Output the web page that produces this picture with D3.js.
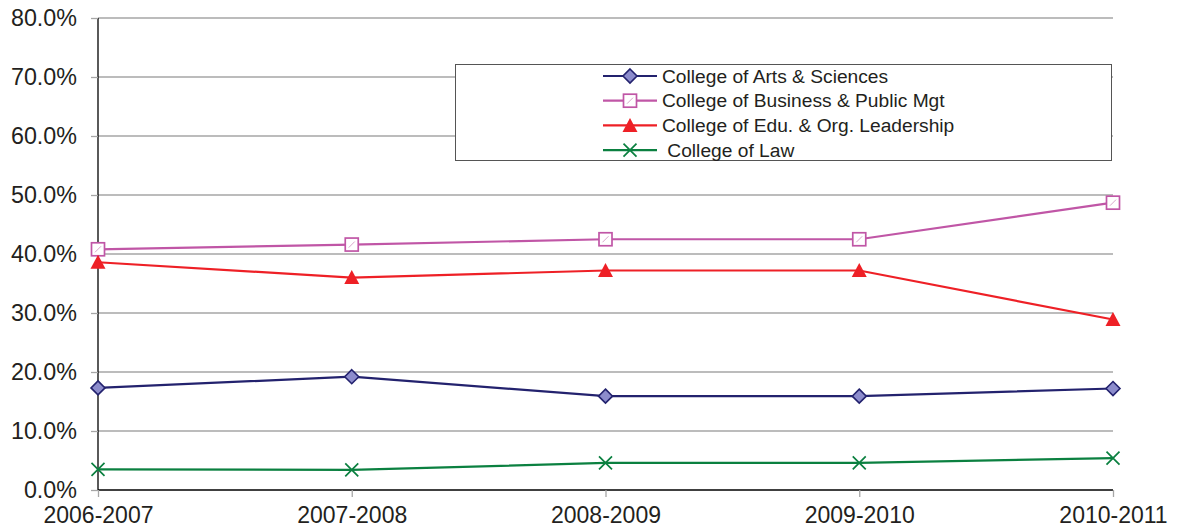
<!DOCTYPE html>
<html><head><meta charset="utf-8">
<script src="https://cdn.jsdelivr.net/npm/d3@7/dist/d3.min.js"></script>
<style>body{margin:0;background:#fff;}svg{display:block;font-family:"Liberation Sans",Arial,sans-serif;}</style>
</head><body><svg id="c" width="1177" height="531"></svg>
<script>
const years = ["2006-2007","2007-2008","2008-2009","2009-2010","2010-2011"];
const yTicks = [0,0.1,0.2,0.3,0.4,0.5,0.6,0.7,0.8];
const arts = [0.173,0.192,0.159,0.159,0.172];
const business = [0.408,0.416,0.425,0.425,0.487];
const edu = [0.386,0.360,0.372,0.372,0.289];
const law = [0.035,0.034,0.046,0.046,0.054];
const seriesNames = ["College of Arts & Sciences","College of Business & Public Mgt","College of Edu. & Org. Leadership"," College of Law"];

const series = [
  {name:seriesNames[0], values:arts, color:"#23226e", marker:"diamond", fill:"#8c8ccc"},
  {name:seriesNames[1], values:business, color:"#c056a6", marker:"square", fill:"#fff"},
  {name:seriesNames[2], values:edu, color:"#ee2026", marker:"triangle", fill:"#ee2026"},
  {name:seriesNames[3], values:law, color:"#0b8040", marker:"x", fill:"none"}
];

const svg = d3.select("#c");
const x = d3.scalePoint().domain(years).range([98,1113]);
const y = d3.scaleLinear().domain([0,0.8]).range([490,18]);

// gridlines
svg.append("g").selectAll("line").data(yTicks.filter(d=>d>0)).join("line")
  .attr("x1",98).attr("x2",1113).attr("y1",d=>y(d)).attr("y2",d=>y(d))
  .attr("stroke","#a6a6a6").attr("stroke-width",1.3);

// y axis
const yAxis = svg.append("g").attr("transform","translate(98,0)")
  .call(d3.axisLeft(y).tickValues(yTicks).tickFormat(d3.format(".1%")).tickSize(7).tickPadding(14));
yAxis.select(".domain").attr("stroke","#000").attr("stroke-width",1.3).attr("d","M0,18V490");
yAxis.selectAll(".tick line").attr("stroke","#a6a6a6").attr("stroke-width",1.3);
yAxis.selectAll(".tick text").attr("font-size",23.3).attr("fill","#231f20").attr("font-family","Liberation Sans, Arial, sans-serif");

// x axis
const xAxis = svg.append("g").attr("transform","translate(0,490)")
  .call(d3.axisBottom(x).tickSize(7).tickPadding(10));
xAxis.select(".domain").attr("stroke","#000").attr("stroke-width",1.3).attr("d","M98,0H1113");
xAxis.selectAll(".tick line").attr("stroke","#a6a6a6").attr("stroke-width",1.3);
xAxis.selectAll(".tick text").attr("font-size",23).attr("fill","#231f20").attr("font-family","Liberation Sans, Arial, sans-serif");

function drawMarker(g, s, cx, cy){
  if(s.marker==="diamond"){
    g.append("path").attr("d",`M${cx},${cy-7}L${cx+7},${cy}L${cx},${cy+7}L${cx-7},${cy}Z`)
      .attr("fill",s.fill).attr("stroke",s.color).attr("stroke-width",1.6);
  } else if(s.marker==="square"){
    g.append("rect").attr("x",cx-6.5).attr("y",cy-6.5).attr("width",13).attr("height",13)
      .attr("fill",s.fill).attr("stroke",s.color).attr("stroke-width",1.7);
    g.append("path").attr("d",`M${cx-3},${cy+3}L${cx+3},${cy-3}`).attr("stroke","#d9a6cc").attr("stroke-width",1);
  } else if(s.marker==="triangle"){
    g.append("path").attr("d",`M${cx},${cy-7.5}L${cx+7.5},${cy+6.5}L${cx-7.5},${cy+6.5}Z`).attr("fill",s.fill);
  } else {
    g.append("path").attr("d",`M${cx-6.5},${cy-6.5}L${cx+6.5},${cy+6.5}M${cx-6.5},${cy+6.5}L${cx+6.5},${cy-6.5}`)
      .attr("stroke",s.color).attr("stroke-width",1.7);
  }
}

const line = d3.line().x((d,i)=>x(years[i])).y(d=>y(d));
series.forEach(s=>{
  const g = svg.append("g");
  g.append("path").datum(s.values).attr("d",line).attr("fill","none").attr("stroke",s.color).attr("stroke-width",2.2);
  s.values.forEach((v,i)=>drawMarker(g,s,x(years[i]),y(v)));
});

// legend
const lg = svg.append("g");
lg.append("rect").attr("x",455.5).attr("y",64.5).attr("width",656).attr("height",96)
  .attr("fill","#fff").attr("stroke","#555").attr("stroke-width",1);
series.forEach((s,i)=>{
  const cy = 76 + i*24.7;
  const g = lg.append("g");
  g.append("line").attr("x1",603).attr("x2",657).attr("y1",cy).attr("y2",cy).attr("stroke",s.color).attr("stroke-width",2.2);
  drawMarker(g,s,630,cy);
  g.append("text").attr("x",662).attr("y",cy+6.5).attr("font-size",19.2).attr("fill","#231f20").style("white-space","pre").text(s.name);
});
</script></body></html>
